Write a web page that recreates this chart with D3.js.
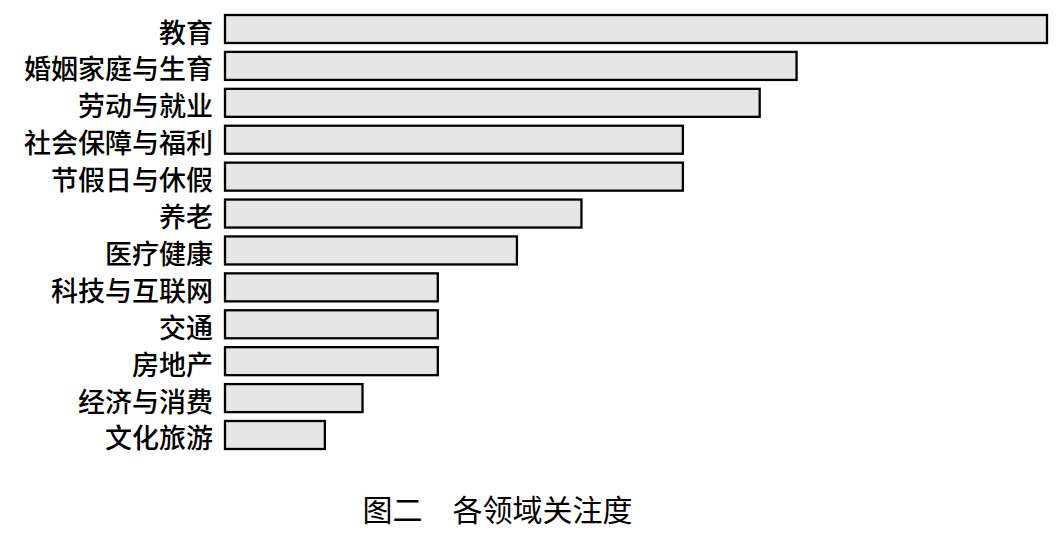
<!DOCTYPE html>
<html>
<head>
<meta charset="utf-8">
<script src="https://cdn.jsdelivr.net/npm/d3@7"></script>
<style>
  body { margin: 0; background: #fff; }
  svg { display: block; }
</style>
</head>
<body>
<div id="vis"></div>
<script>
// categories top to bottom
var categories = ["教育", "婚姻家庭与生育", "劳动与就业", "社会保障与福利", "节假日与休假", "养老",
                  "医疗健康", "科技与互联网", "交通", "房地产", "经济与消费", "文化旅游"];
var values = [107, 74.4, 69.6, 59.6, 59.6, 46.4, 38, 27.7, 27.7, 27.7, 17.9, 13];
var title = "图二\u3000各领域关注度";

var w = 1064;
var h = 539;

var svg = d3.select("#vis")
  .append("svg")
  .attr("width", w)
  .attr("height", h);

var x = d3.scaleLinear()
  .domain([0, d3.max(values)])
  .range([225, 1047]);

var y = d3.scaleBand()
  .domain(categories)
  .range([15, 449])
  .paddingInner(0.241)
  .paddingOuter(0);

var data = categories.map(function(c, i) { return { name: c, value: values[i] }; });

svg.selectAll("rect.bar")
  .data(data)
  .enter()
  .append("rect")
  .attr("class", "bar")
  .attr("x", x(0))
  .attr("y", function(d) { return y(d.name); })
  .attr("width", function(d) { return x(d.value) - x(0); })
  .attr("height", y.bandwidth())
  .attr("fill", "#e6e6e6")
  .attr("stroke", "#000")
  .attr("stroke-width", 2.3);

// category labels
svg.selectAll("text.label")
  .data(data)
  .enter()
  .append("text")
  .attr("class", "label")
  .attr("x", 213)
  .attr("y", function(d) { return y(d.name) + y.bandwidth() / 2 + 2; })
  .attr("text-anchor", "end")
  .attr("dominant-baseline", "central")
  .style("font-family", "'Noto Sans CJK SC', sans-serif")
  .style("font-size", "27px")
  .style("font-weight", 500)
  .style("fill", "#000")
  .text(function(d) { return d.name; });

svg.append("text")
  .attr("x", 497.5)
  .attr("y", 508)
  .attr("text-anchor", "middle")
  .attr("dominant-baseline", "central")
  .style("font-family", "'Noto Sans CJK SC', serif")
  .style("font-size", "30px")
  .style("font-weight", 400)
  .style("fill", "#000")
  .text(title);
</script>
</body>
</html>
